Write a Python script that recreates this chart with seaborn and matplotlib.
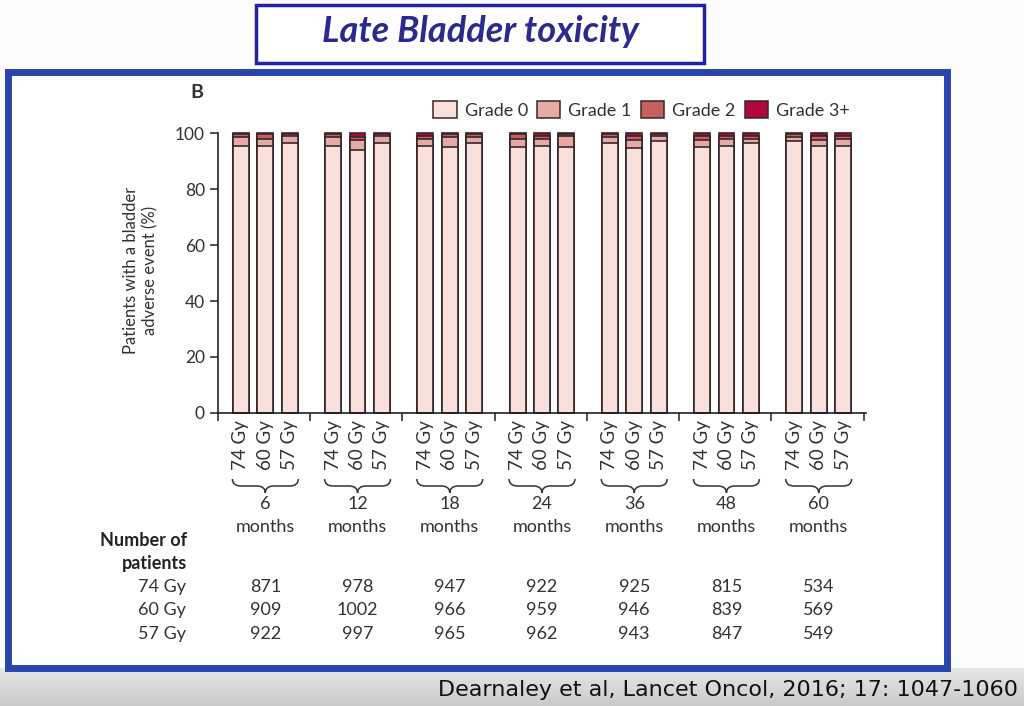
import numpy as np
import pandas as pd
import matplotlib.pyplot as plt
import matplotlib.patches as mpatches
from matplotlib.path import Path
from matplotlib.transforms import blended_transform_factory
import seaborn as sns

months = ['6', '12', '18', '24', '36', '48', '60']
doses = ['74 Gy', '60 Gy', '57 Gy']
grade_names = ['Grade 0', 'Grade 1', 'Grade 2', 'Grade 3+']
grade_colors = ['#f8e0dd', '#e6aaa4', '#c85f5f', '#b0083a']

# % per bar, order: month group, then 74 / 60 / 57 Gy
grade0 = [95.5, 95.5, 96.5, 95.5, 94.0, 96.5, 95.5, 95.0, 96.5, 95.0, 95.5, 95.0,
          96.5, 94.5, 97.0, 95.0, 95.5, 96.5, 97.0, 95.5, 95.5]
grade1 = [3.0, 2.5, 2.5, 3.0, 3.5, 2.5, 2.5, 3.5, 2.0, 3.0, 2.5, 4.0,
          2.0, 3.0, 2.0, 2.5, 2.5, 1.5, 1.5, 2.0, 2.5]
grade2 = [1.0, 1.5, 0.5, 1.0, 1.0, 0.5, 1.0, 1.0, 1.0, 1.5, 1.0, 0.5,
          1.0, 1.5, 0.5, 1.5, 1.0, 1.0, 1.0, 1.5, 1.0]
grade3 = [0.5, 0.5, 0.5, 0.5, 1.5, 0.5, 1.0, 0.5, 0.5, 0.5, 1.0, 0.5,
          0.5, 1.0, 0.5, 1.0, 1.0, 1.0, 0.5, 1.0, 1.0]

n_74 = [871, 978, 947, 922, 925, 815, 534]
n_60 = [909, 1002, 966, 959, 946, 839, 569]
n_57 = [922, 997, 965, 962, 943, 847, 549]

sns.set_style("ticks")
plt.rcParams['font.family'] = ['Lato', 'DejaVu Sans']

gap = 3.78
rows = []
for g in range(len(months)):
    for j in range(len(doses)):
        rows.append({'x': g * gap + j, 'month': months[g], 'dose': doses[j]})
df = pd.DataFrame(rows)
df['g0'] = grade0
df['g1'] = grade1
df['g2'] = grade2
df['g3'] = grade3
df['c0'] = df['g0']
df['c1'] = df['c0'] + df['g1']
df['c2'] = df['c1'] + df['g2']
df['c3'] = df['c2'] + df['g3']

W, H = 1024, 706
fig = plt.figure(figsize=(W / 100, H / 100), dpi=100, facecolor='#fcfcfa')

# bottom grey strip
bg = fig.add_axes([0, 0, 1, 38 / H], zorder=-5)
grad = np.linspace(0, 1, 50).reshape(-1, 1)
bg.imshow(grad, aspect='auto', cmap=sns.blend_palette(['#c9cbc9', '#e6e8e6'], as_cmap=True),
          extent=[0, 1, 0, 1], origin='lower')
bg.axis('off')

# blue frame
fig.patches.append(mpatches.Rectangle((8 / W, 1 - 668 / H), 939 / W, 596 / H,
                                      transform=fig.transFigure, facecolor='white',
                                      edgecolor='#2a45ad', linewidth=5, zorder=-3))
# title box
fig.patches.append(mpatches.Rectangle((256 / W, 1 - 63 / H), 448 / W, 58 / H,
                                      transform=fig.transFigure, facecolor='white',
                                      edgecolor='#2222a0', linewidth=2.5, zorder=-3))
fig.text(480 / W, 1 - 31 / H, 'Late Bladder toxicity', ha='center', va='center',
         fontsize=26, fontweight='bold', fontstyle='italic', color='#2b2b8e')

ax = fig.add_axes([218 / W, 1 - 413 / H, 648 / W, 280 / H])
ax.patch.set_alpha(0)
edge = '#36262a'
for col, c in zip(['c3', 'c2', 'c1', 'c0'], grade_colors[::-1]):
    sns.barplot(data=df, x='x', y=col, native_scale=True, color=c, saturation=1,
                width=0.65, edgecolor=edge, linewidth=1.2, errorbar=None, ax=ax)
for p in ax.patches:
    p.set_clip_on(False)

ax.set_xlim(-0.94, (len(months) - 1) * gap + 2 + 0.94)
ax.set_ylim(0, 100)
ax.set_yticks(range(0, 101, 20))
ax.set_xticks(df['x'])
ax.set_xticklabels(df['dose'], rotation=90, fontsize=13.5, color='#333333')
ax.set_xticks([-0.94 + k * gap for k in range(len(months) + 1)], minor=True)
ax.tick_params(axis='x', which='major', length=0, pad=5)
ax.tick_params(axis='x', which='minor', length=6, width=1.1, color='#222222')
ax.tick_params(axis='y', length=6, width=1.1, labelsize=12.5, labelcolor='#333333', color='#222222')
ax.set_xlabel('')
ax.set_ylabel('')
sns.despine(ax=ax)
for s in ['left', 'bottom']:
    ax.spines[s].set_linewidth(1.2)
    ax.spines[s].set_color('#222222')

fig.text(141 / W, 1 - 270 / H, 'Patients with a bladder\nadverse event (%)', rotation=90,
         ha='center', va='center', multialignment='center', fontsize=12, color='#333333',
         linespacing=1.25)
fig.text(197 / W, 1 - 93 / H, 'B', ha='center', va='center', fontsize=14,
         fontweight='bold', color='#333333')

# legend
handles = [mpatches.Patch(facecolor=c, edgecolor=edge, linewidth=1.1) for c in grade_colors]
fig.legend(handles, grade_names, loc='center right', bbox_to_anchor=(850 / W, 1 - 110 / H),
           ncol=4, frameon=False, fontsize=13, handlelength=1.3, handleheight=1.0,
           handletextpad=0.45, columnspacing=0.5, borderpad=0, borderaxespad=0,
           labelcolor='#333333')

# braces and month labels
tr = blended_transform_factory(ax.transData, fig.transFigure)
ytop, ymid, ybot = 1 - 479 / H, 1 - 486 / H, 1 - 493 / H
for g, m in enumerate(months):
    x0 = g * gap - 0.35
    x1 = g * gap + 2.35
    xm = g * gap + 1
    r = 0.35
    verts = [(x0, ytop), (x0, ymid), (x0 + r, ymid), (xm - r, ymid), (xm, ymid), (xm, ybot),
             (xm, ymid), (xm + r, ymid), (x1 - r, ymid), (x1, ymid), (x1, ytop)]
    codes = [Path.MOVETO, Path.CURVE3, Path.CURVE3, Path.LINETO, Path.CURVE3, Path.CURVE3,
             Path.CURVE3, Path.CURVE3, Path.LINETO, Path.CURVE3, Path.CURVE3]
    fig.patches.append(mpatches.PathPatch(Path(verts, codes), transform=tr, fill=False,
                                          edgecolor='#333333', linewidth=1.1))
    fig.text(xm, 1 - 504 / H, m, transform=tr, ha='center', va='center', fontsize=13,
             color='#333333')
    fig.text(xm, 1 - 527 / H, 'months', transform=tr, ha='center', va='center', fontsize=13,
             color='#333333')

# number of patients table
fig.text(187 / W, 1 - 540 / H, 'Number of', ha='right', va='center', fontsize=13,
         fontweight='bold', color='#222222')
fig.text(187 / W, 1 - 563 / H, 'patients', ha='right', va='center', fontsize=13,
         fontweight='bold', color='#222222')
for label, vals, y in [('74 Gy', n_74, 587), ('60 Gy', n_60, 610), ('57 Gy', n_57, 634)]:
    fig.text(186 / W, 1 - y / H, label, ha='right', va='center', fontsize=13, color='#333333')
    for g, v in enumerate(vals):
        fig.text(g * gap + 1, 1 - y / H, str(v), transform=tr, ha='center', va='center',
                 fontsize=13, color='#333333')

fig.text(1018 / W, 1 - 690 / H, 'Dearnaley et al, Lancet Oncol, 2016; 17: 1047-1060',
         ha='right', va='center', fontsize=16, family='DejaVu Sans', color='#111111')

fig.savefig('out.png', dpi=100, facecolor=fig.get_facecolor())
